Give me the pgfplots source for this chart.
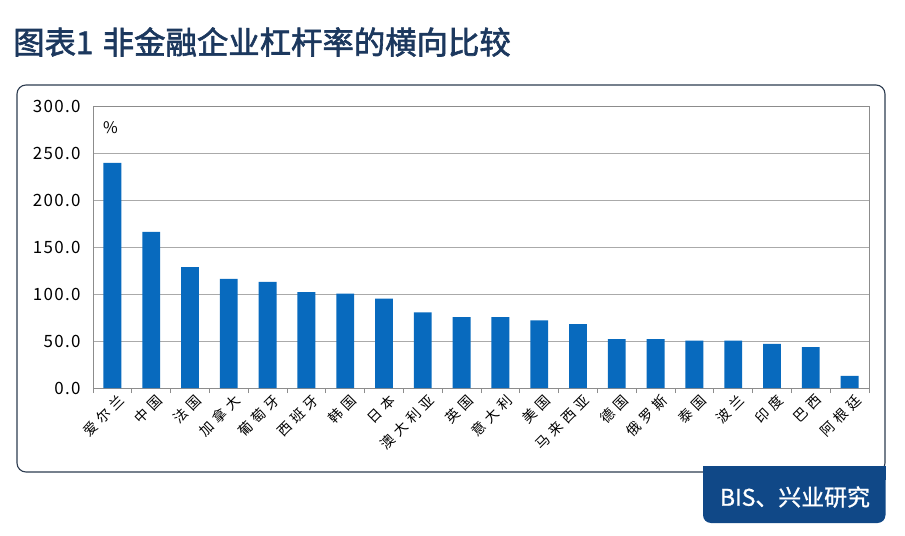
\documentclass[border=0pt]{standalone}
\usepackage{pgfplots}
\pgfplotsset{compat=1.18}
\usepackage{fontspec}
\setmainfont{Noto Sans CJK SC}
\newfontfamily\spaced{Noto Sans CJK SC}[LetterSpace=32]
\newfontfamily\numfont{Noto Sans CJK SC}[LetterSpace=8]
\newfontfamily\titlefont{Noto Sans CJK SC}[FakeBold=2]
\newfontfamily\boxfont{Noto Sans CJK SC}[FakeBold=1]
\definecolor{barblue}{RGB}{8,106,190}
\definecolor{titleblue}{RGB}{28,56,94}
\definecolor{boxblue}{RGB}{16,72,135}
\definecolor{framec}{RGB}{45,60,80}
\definecolor{gridgray}{RGB}{170,170,170}
\definecolor{axisgray}{RGB}{140,140,140}
\begin{document}
\begin{tikzpicture}
\useasboundingbox (0,0) rectangle (905bp,-536bp);
\begin{scope}[x=1bp,y=-1bp]
\fill[white] (0,0) rectangle (905,536);
\node[anchor=west,text=titleblue,font=\titlefont\fontsize{31.5}{34}\selectfont,inner sep=0] at (13,42) {图表1\hspace{0.3em}非金融企业杠杆率的横向比较};
\draw[framec,line width=1.1bp,rounded corners=9bp] (17,85) rectangle (885,472);
\fill[boxblue,rounded corners=8bp] (703,466) rectangle (885.5,523);
\fill[boxblue] (703,466) rectangle (885.5,480);
\node[text=white,font=\boxfont\fontsize{23}{25}\selectfont] at (795,497) {BIS、兴业研究};
\end{scope}
\begin{axis}[
  at={(93bp,-388bp)}, anchor=south west, scale only axis,
  width=776bp, height=282bp,
  ymin=0, ymax=300, ytick={0,50,...,300},
  xmin=-0.5, xmax=19.5, xtick={0,...,19},
  minor xtick={-0.5,0.5,...,19.5},
  xticklabels={爱尔兰,中国,法国,加拿大,葡萄牙,西班牙,韩国,日本,澳大利亚,英国,意大利,美国,马来西亚,德国,俄罗斯,泰国,波兰,印度,巴西,阿根廷},
  ybar, bar width=0.46,
  ymajorgrids, grid style={gridgray,line width=0.9bp},
  axis line style={axisgray,line width=1bp},
  major tick length=0pt, minor tick length=5bp, tick align=outside,
  tick style={axisgray,line width=0.8bp},
  xtick pos=bottom, ytick pos=left,
  yticklabel style={font=\numfont\fontsize{17}{18}\selectfont,xshift=-9bp},
  xticklabel style={font=\spaced\fontsize{14}{15}\selectfont,rotate=45,anchor=north east,inner sep=0.5bp,yshift=-6bp},
  /pgf/number format/.cd, fixed, fixed zerofill, precision=1, assume math mode=true,
]
\addplot[fill=barblue,draw=none] coordinates {
(0,239.5) (1,166) (2,128.5) (3,116) (4,113) (5,102) (6,100.5) (7,95) (8,80.5) (9,75.5)
(10,75.5) (11,72) (12,68) (13,52) (14,52) (15,50.5) (16,50.5) (17,47) (18,43.5) (19,13)};
\node[font=\fontsize{16}{17}\selectfont] at (axis cs:-0.05,277) {\%};
\end{axis}
\end{tikzpicture}
\end{document}
